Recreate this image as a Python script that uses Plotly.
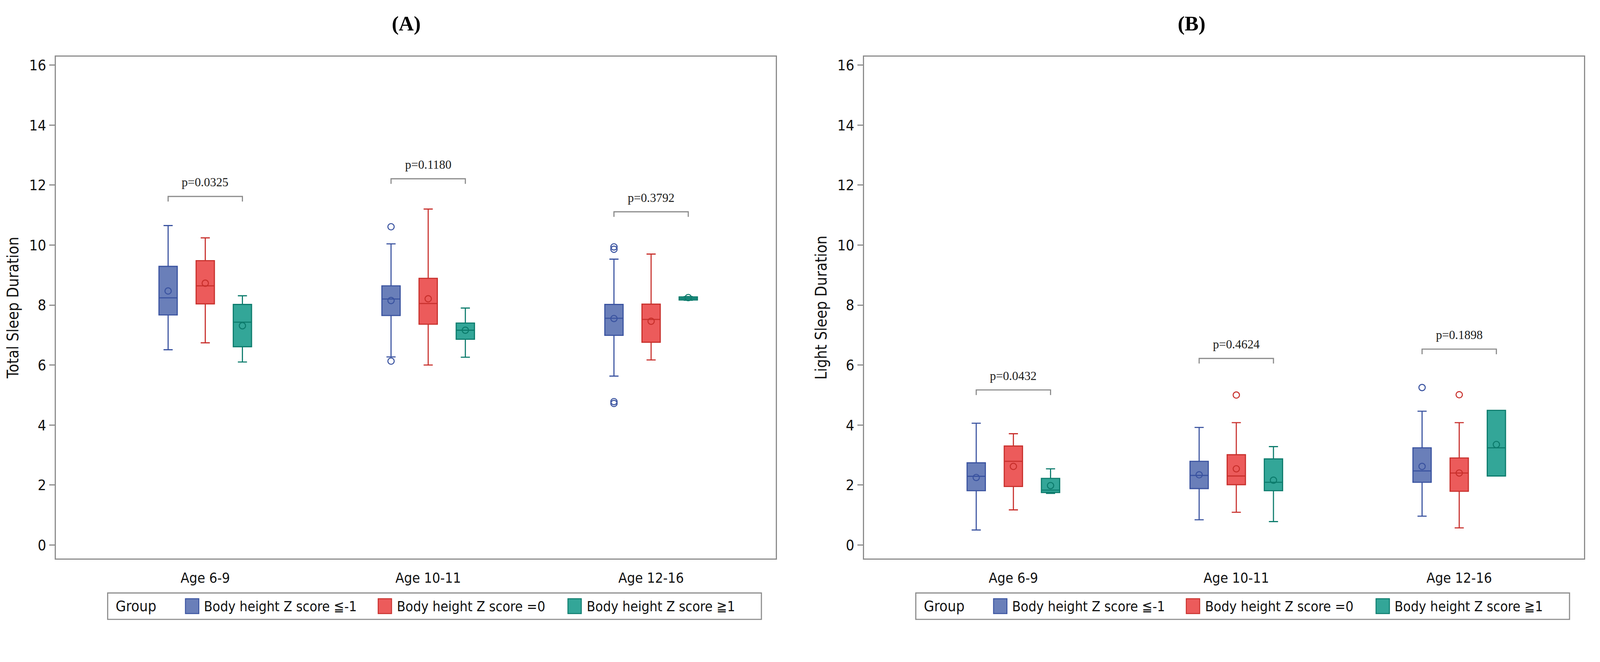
import plotly.graph_objects as go

# ---------------- data ----------------
ages = ["Age 6-9", "Age 10-11", "Age 12-16"]
groups = ["Body height Z score \u2266-1", "Body height Z score =0", "Body height Z score \u22671"]

# Panel A: Total Sleep Duration  (rows = groups, columns = ages)
tsd_lower = [[6.51, 6.27, 5.63], [6.74, 6.00, 6.17], [6.10, 6.26, 8.16]]
tsd_q1 = [[7.67, 7.65, 6.99], [8.04, 7.36, 6.76], [6.61, 6.86, 8.17]]
tsd_median = [[8.24, 8.20, 7.56], [8.64, 8.05, 7.52], [7.43, 7.16, 8.22]]
tsd_q3 = [[9.29, 8.64, 8.02], [9.48, 8.89, 8.03], [8.02, 7.40, 8.27]]
tsd_upper = [[10.65, 10.04, 9.53], [10.24, 11.20, 9.70], [8.31, 7.90, 8.28]]
tsd_mean = [[8.47, 8.15, 7.55], [8.73, 8.21, 7.46], [7.31, 7.16, 8.25]]
tsd_outliers = [[[], [10.61, 6.13], [9.94, 9.86, 4.78, 4.72]], [[], [], []], [[], [], []]]
tsd_bracket = [11.62, 12.21, 11.11]
tsd_p = ["p=0.0325", "p=0.1180", "p=0.3792"]

# Panel B: Light Sleep Duration
lsd_lower = [[0.50, 0.84, 0.96], [1.17, 1.09, 0.57], [1.72, 0.78, 2.30]]
lsd_q1 = [[1.81, 1.88, 2.09], [1.95, 2.01, 1.79], [1.75, 1.81, 2.30]]
lsd_median = [[2.29, 2.32, 2.47], [2.79, 2.30, 2.40], [1.83, 2.09, 3.24]]
lsd_q3 = [[2.74, 2.79, 3.24], [3.30, 3.01, 2.90], [2.22, 2.87, 4.49]]
lsd_upper = [[4.06, 3.92, 4.46], [3.71, 4.08, 4.08], [2.54, 3.28, 4.49]]
lsd_mean = [[2.25, 2.34, 2.62], [2.62, 2.54, 2.40], [1.98, 2.16, 3.35]]
lsd_outliers = [[[], [], [5.25]], [[], [5.00], [5.01]], [[], [], []]]
lsd_bracket = [5.17, 6.22, 6.53]
lsd_p = ["p=0.0432", "p=0.4624", "p=0.1898"]

yticks = [0, 2, 4, 6, 8, 10, 12, 14, 16]

# ---------------- style ----------------
fill_colors = ["#6A7FB9", "#EC5B5B", "#33A698"]
line_colors = ["#3A53A0", "#C8302C", "#0C7B6C"]
SANS = "Liberation Sans Narrow, DejaVu Sans Condensed, Roboto Condensed, Arial Narrow, sans-serif"
SERIF = "Liberation Serif, Times New Roman, serif"
AXIS_GREY = "#8C8C8C"
group_offset = [-1 / 6, 0.0, 1 / 6]
box_width = 0.082
W, H = 4273, 1695          # reference picture size
S = 1 / 1.05               # css px per picture px
x_domains = [[0.0332, 0.4861], [0.5415, 0.9944]]
y_domain = [0.119, 0.915]
panel_shift = 0.5083


def px(v):
    return v * S


fig = go.Figure()

panels = [
    dict(lower=tsd_lower, q1=tsd_q1, med=tsd_median, q3=tsd_q3, upper=tsd_upper,
         mean=tsd_mean, out=tsd_outliers, br=tsd_bracket, p=tsd_p,
         title="Total Sleep Duration", label="(A)", xa="x", ya="y"),
    dict(lower=lsd_lower, q1=lsd_q1, med=lsd_median, q3=lsd_q3, upper=lsd_upper,
         mean=lsd_mean, out=lsd_outliers, br=lsd_bracket, p=lsd_p,
         title="Light Sleep Duration", label="(B)", xa="x2", ya="y2"),
]

cat_pos = list(range(len(ages)))


def marker_style(g):
    return dict(symbol="circle-open", size=px(17),
                line=dict(width=px(2.8), color=line_colors[g]), color=line_colors[g])


for pi, P in enumerate(panels):
    for g in range(len(groups)):
        xs = [c + group_offset[g] for c in cat_pos]
        fig.add_trace(go.Box(
            x=xs, q1=P["q1"][g], median=P["med"][g], q3=P["q3"][g],
            lowerfence=P["lower"][g], upperfence=P["upper"][g],
            width=box_width, whiskerwidth=0.5, boxpoints=False,
            fillcolor=fill_colors[g], line=dict(color=line_colors[g], width=px(3)),
            name=groups[g], showlegend=False, xaxis=P["xa"], yaxis=P["ya"]))
        fig.add_trace(go.Scatter(
            x=xs, y=P["mean"][g], mode="markers", marker=marker_style(g),
            name=groups[g] + " mean", showlegend=False, xaxis=P["xa"], yaxis=P["ya"]))
        ox, oy = [], []
        for c in cat_pos:
            for v in P["out"][g][c]:
                ox.append(c + group_offset[g])
                oy.append(v)
        if oy:
            fig.add_trace(go.Scatter(
                x=ox, y=oy, mode="markers", marker=marker_style(g),
                name=groups[g] + " outliers", showlegend=False, xaxis=P["xa"], yaxis=P["ya"]))
    # brackets and p-values
    drop = 0.17
    for c in cat_pos:
        x0 = c + group_offset[0]
        x1 = c + group_offset[-1]
        yb = P["br"][c]
        fig.add_shape(type="path",
                      path=f"M {x0} {yb - drop} L {x0} {yb} L {x1} {yb} L {x1} {yb - drop}",
                      xref=P["xa"], yref=P["ya"], line=dict(color="#8A8A8A", width=px(3)))
        fig.add_annotation(x=c, y=yb + 0.47, xref=P["xa"], yref=P["ya"], text=P["p"][c],
                           showarrow=False, font=dict(family=SERIF, size=px(33), color="#1A1A1A"),
                           yanchor="middle")

axis_common = dict(showline=True, linecolor=AXIS_GREY, linewidth=px(3), mirror=True,
                   showgrid=False, zeroline=False, automargin=False)
for pi, P in enumerate(panels):
    xkey = "xaxis" if pi == 0 else "xaxis2"
    ykey = "yaxis" if pi == 0 else "yaxis2"
    fig.update_layout(**{
        xkey: dict(domain=x_domains[pi], range=[-0.67, 2.56], tickvals=cat_pos, ticktext=ages,
                   ticks="", ticklabelstandoff=int(round(px(17))),
                   tickfont=dict(family=SANS, size=px(38), color="#111"),
                   anchor=P["ya"], **axis_common),
        ykey: dict(domain=y_domain, range=[-0.45, 16.28], tickvals=yticks, ticks="outside",
                   ticklen=px(15), tickwidth=px(3), tickcolor=AXIS_GREY,
                   tickfont=dict(family=SANS, size=px(40), color="#111"),
                   title=dict(text=P["title"], font=dict(family=SANS, size=px(42), color="#111"),
                              standoff=int(round(px(16)))),
                   anchor=P["xa"], **axis_common),
    })

# panel labels
label_x = [0.2535, 0.7475]
for pi, P in enumerate(panels):
    fig.add_annotation(x=label_x[pi], y=0.968, xref="paper", yref="paper", text=f"<b>{P['label']}</b>",
                       showarrow=False, font=dict(family=SERIF, size=px(56), color="#000"),
                       xanchor="center", yanchor="middle")

# legends (drawn as boxes with swatches)
leg_x0, leg_x1 = 281 / W, 2038 / W
leg_y0, leg_y1 = 1 - 1657 / H, 1 - 1586 / H
leg_ym = (leg_y0 + leg_y1) / 2
sw_x = [490 / W, 1008 / W, 1518 / W]
sw_w = 36 / W
sw_h = 40 / H
for pi in range(2):
    s = pi * panel_shift
    fig.add_shape(type="rect", xref="paper", yref="paper", x0=leg_x0 + s, x1=leg_x1 + s,
                  y0=leg_y0, y1=leg_y1, line=dict(color=AXIS_GREY, width=px(3)), fillcolor="white")
    fig.add_annotation(x=300 / W + s, y=leg_ym, xref="paper", yref="paper", text="Group",
                       showarrow=False, xanchor="left", yanchor="middle",
                       font=dict(family=SANS, size=px(40), color="#111"))
    for g in range(len(groups)):
        fig.add_shape(type="rect", xref="paper", yref="paper",
                      x0=sw_x[g] + s, x1=sw_x[g] + sw_w + s,
                      y0=leg_ym - sw_h / 2, y1=leg_ym + sw_h / 2,
                      fillcolor=fill_colors[g], line=dict(color=line_colors[g], width=px(2.5)))
        fig.add_annotation(x=sw_x[g] + sw_w + 12 / W + s, y=leg_ym, xref="paper", yref="paper",
                           text=groups[g], showarrow=False, xanchor="left", yanchor="middle",
                           font=dict(family=SANS, size=px(37.5), color="#111"))

fig.update_layout(width=round(W * S), height=round(H * S), margin=dict(l=0, r=0, t=0, b=0),
                  paper_bgcolor="white", plot_bgcolor="white", template="none",
                  showlegend=False)

fig.write_html("out.html")
